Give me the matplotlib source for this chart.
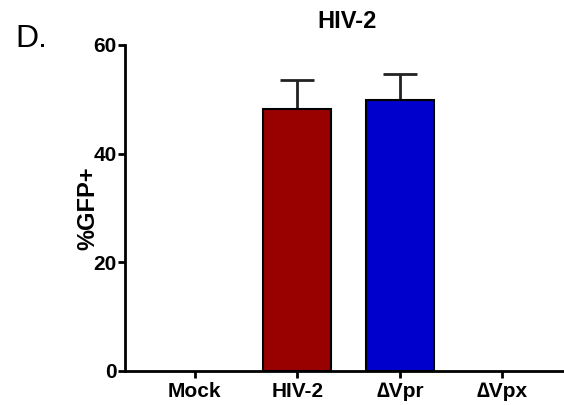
import matplotlib
matplotlib.use('Agg')
import matplotlib.pyplot as plt

categories = ['Mock', 'HIV-2', '\u2206Vpr', '\u2206Vpx']
values = [0, 48.2, 49.9, 0]
errors = [0, 5.4, 4.8, 0]
colors = ['white', '#990000', '#0000CC', 'white']

plt.rcParams['font.family'] = ['Liberation Sans', 'DejaVu Sans']

fig = plt.figure(figsize=(5.64, 4.05), dpi=100)
ax = fig.add_axes([0.2216, 0.084, 0.7784, 0.805])

x = list(range(len(categories)))
for i in x:
    if values[i] > 0:
        ax.bar(i, values[i], width=0.66, color=colors[i], edgecolor='black',
               linewidth=1.5, zorder=2)
        ax.errorbar(i, values[i], yerr=[[0], [errors[i]]], fmt='none',
                    ecolor='#222222', elinewidth=2, capsize=12.5, capthick=2,
                    zorder=1)

ax.set_xlim(-0.68, 3.6)
ax.set_ylim(0, 60)
ax.set_yticks([0, 20, 40, 60])
ax.set_xticks(x)
ax.set_xticklabels(categories, fontsize=15, fontweight='bold')
for lab in ax.get_yticklabels():
    lab.set_fontsize(15)
    lab.set_fontweight('bold')
ax.spines['top'].set_visible(False)
ax.spines['right'].set_visible(False)
ax.spines['left'].set_linewidth(2)
ax.spines['bottom'].set_linewidth(2)
ax.tick_params(axis='both', direction='out', length=5, width=2, pad=3)
ax.tick_params(axis='y', pad=1)
ax.set_ylabel('%GFP+', fontsize=17, fontweight='bold', labelpad=-4)
ax.set_title('HIV-2', fontsize=17, fontweight='bold', pad=12, x=0.505)
fig.text(0.027, 0.885, 'D.', fontsize=23)

fig.savefig('out.png', dpi=100)
